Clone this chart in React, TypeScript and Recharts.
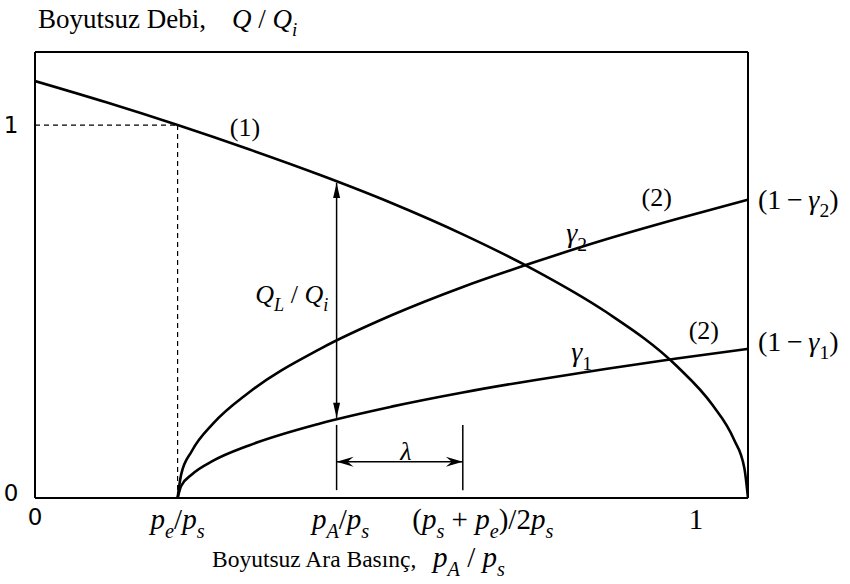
import { ComposedChart, Line, XAxis, YAxis, ReferenceLine, ReferenceDot, Label } from 'recharts';

// curve (1): leakage-limited flow, falls to zero at p_A/p_s = 1
const curve1P = [0, 0.1, 0.2, 0.3, 0.4, 0.5, 0.6, 0.7, 0.8, 0.9, 0.95, 0.98, 0.995, 1];
const curve1Q = [1.118, 1.061, 1.0, 0.935, 0.866, 0.791, 0.707, 0.612, 0.5, 0.354, 0.25, 0.158, 0.079, 0];

// curves (2): gamma_1 / gamma_2, both start at p_e/p_s
const gammaP = [0.2, 0.205, 0.22, 0.25, 0.3, 0.4, 0.5, 0.6, 0.7, 0.8, 0.9, 1.0];
const gamma2Q = [0, 0.063, 0.126, 0.2, 0.283, 0.4, 0.49, 0.566, 0.632, 0.693, 0.748, 0.8];
const gamma1Q = [0, 0.032, 0.063, 0.1, 0.141, 0.2, 0.245, 0.283, 0.316, 0.346, 0.374, 0.4];

const PE = 0.2;
const PA = 0.423;
const PMID = 0.6;
const Q_MAX = 1.196;

const xTicks = [0, PE, PA, PMID, 0.927];
const yTicks = [0, 1];

type Kind = 'r' | 'i' | 'sub' | 'subr';
type Part = [string, Kind];

const xTickLabels: Part[][] = [
  [['0', 'r']],
  [['p', 'i'], ['e', 'sub'], ['/', 'r'], ['p', 'i'], ['s', 'sub']],
  [['p', 'i'], ['A', 'sub'], ['/', 'r'], ['p', 'i'], ['s', 'sub']],
  [['(', 'r'], ['p', 'i'], ['s', 'sub'], ['\u00a0+\u00a0', 'r'], ['p', 'i'], ['e', 'sub'], [')/2', 'r'], ['p', 'i'], ['s', 'sub']],
  [['1', 'r']],
];

const xTitle = 'Boyutsuz Ara Basınç,';
const xTitleMath: Part[] = [['p', 'i'], ['A', 'sub'], ['\u00a0/\u00a0', 'r'], ['p', 'i'], ['s', 'sub']];
const yTitle = 'Boyutsuz Debi,';
const yTitleMath: Part[] = [['Q', 'i'], ['\u00a0/\u00a0', 'r'], ['Q', 'i'], ['i', 'sub']];

const rows = (xs: number[], ys: number[]) => xs.map((p, i) => ({ p, q: ys[i] }));
const curve1 = rows(curve1P, curve1Q);
const gamma2 = rows(gammaP, gamma2Q);
const gamma1 = rows(gammaP, gamma1Q);

const SERIF = '"Liberation Serif", "Times New Roman", serif';
const SANS = '"DejaVu Sans", sans-serif';

function MathText({ x, y, parts, size = 22, anchor = 'start' }: { x: number; y: number; parts: Part[]; size?: number; anchor?: string }) {
  let shift = 0;
  const spans = parts.map(([t, k], i) => {
    const sub = k === 'sub' || k === 'subr';
    const target = sub ? size * 0.3 : 0;
    const dy = target - shift;
    shift = target;
    return (
      <tspan key={i} dy={dy} fontStyle={k === 'i' || k === 'sub' ? 'italic' : 'normal'} fontSize={sub ? size * 0.7 : size}>
        {t}
      </tspan>
    );
  });
  return (
    <text x={x} y={y} textAnchor={anchor as any} fontFamily={SERIF} fill="#000">
      {spans}
    </text>
  );
}

const tickShift: Record<number, number> = { 0: 0, 1: 0, 2: 4, 3: 20, 4: 0 };

function XTick(props: any) {
  const { x, y, payload, index } = props;
  const i = xTicks.indexOf(payload.value);
  if (i === 0) {
    return (
      <text x={x} y={y + 19} textAnchor="middle" fontFamily={SANS} fontSize={23} fill="#000">0</text>
    );
  }
  return <MathText x={x + (tickShift[i] ?? 0)} y={y + 23} parts={xTickLabels[i >= 0 ? i : index]} size={29} anchor="middle" />;
}

function YTick(props: any) {
  const { x, y, payload } = props;
  return (
    <text x={x - 16} y={y + (payload.value === 0 ? 3 : 8)} textAnchor="middle" fontFamily={SANS} fontSize={23} fill="#000">
      {payload.value}
    </text>
  );
}

// straight line with arrow heads; `barbed` gives the notched heads used for lambda
function arrowHead(x: number, y: number, ux: number, uy: number, barbed: boolean) {
  const len = barbed ? 17 : 15;
  const half = barbed ? 5 : 3.5;
  const bx = x - ux * len;
  const by = y - uy * len;
  const nx = -uy;
  const ny = ux;
  const notch = barbed ? 11 : len;
  const mx = x - ux * notch;
  const my = y - uy * notch;
  return `${x},${y} ${bx + nx * half},${by + ny * half} ${mx},${my} ${bx - nx * half},${by - ny * half}`;
}

function makeArrow(barbed: boolean, width: number) {
  return (p: any) => {
    const { x1, y1, x2, y2 } = p;
    const d = Math.hypot(x2 - x1, y2 - y1) || 1;
    const ux = (x2 - x1) / d;
    const uy = (y2 - y1) / d;
    return (
      <g>
        <line x1={x1} y1={y1} x2={x2} y2={y2} stroke="#000" strokeWidth={width} />
        <polygon points={arrowHead(x2, y2, ux, uy, barbed)} fill="#000" />
        <polygon points={arrowHead(x1, y1, -ux, -uy, barbed)} fill="#000" />
      </g>
    );
  };
}

const textAt = (parts: Part[], size: number, dx = 0, dy = 0, anchor = 'start') => (p: any) => (
  <MathText x={p.cx + dx} y={p.cy + dy} parts={parts} size={size} anchor={anchor} />
);

const renderXTitle = (p: any) => {
  const vb = p.viewBox;
  return (
    <g>
      <text x={vb.x + 177} y={vb.y + 69} fontFamily={SERIF} fontSize={23.5} fill="#000">{xTitle}</text>
      <MathText x={vb.x + 398} y={vb.y + 69} size={29} parts={xTitleMath} />
    </g>
  );
};

const renderYTitle = (p: any) => {
  const vb = p.viewBox;
  return (
    <g>
      <text x={vb.x + 38} y={vb.y - 24} fontFamily={SERIF} fontSize={27} fill="#000">{yTitle}</text>
      <MathText x={vb.x + 232} y={vb.y - 24} size={27} parts={yTitleMath} />
    </g>
  );
};

export default function App() {
  return (
    <div style={{ position: 'absolute', left: 0, top: 0, background: '#fff' }}>
      <ComposedChart width={850} height={584} margin={{ top: 52, right: 102, bottom: 0, left: 0 }}>
        <XAxis
          type="number"
          dataKey="p"
          domain={[0, 1]}
          ticks={xTicks}
          interval={0}
          allowDataOverflow
          tickLine={false}
          axisLine={{ stroke: '#000', strokeWidth: 2 }}
          tick={<XTick />}
          height={86}
        >
          <Label content={renderXTitle} />
        </XAxis>
        <YAxis
          type="number"
          domain={[0, Q_MAX]}
          ticks={yTicks}
          allowDataOverflow
          tickLine={false}
          axisLine={{ stroke: '#000', strokeWidth: 2 }}
          tick={<YTick />}
          width={35}
        >
          <Label content={renderYTitle} />
        </YAxis>

        {/* frame top and right */}
        <ReferenceLine y={Q_MAX} stroke="#000" strokeWidth={2} />
        <ReferenceLine x={1} stroke="#000" strokeWidth={2} />

        {/* dashed guides to Q/Qi = 1 at p_e/p_s */}
        <ReferenceLine segment={[{ x: 0, y: 1 }, { x: PE, y: 1 }]} stroke="#000" strokeWidth={1.2} strokeDasharray="5 4" />
        <ReferenceLine segment={[{ x: PE, y: 1 }, { x: PE, y: 0 }]} stroke="#000" strokeWidth={1.2} strokeDasharray="5 4" />

        <Line data={curve1} dataKey="q" type="monotone" stroke="#000" strokeWidth={2.6} dot={false} isAnimationActive={false} />
        <Line data={gamma2} dataKey="q" type="monotone" stroke="#000" strokeWidth={2.6} dot={false} isAnimationActive={false} />
        <Line data={gamma1} dataKey="q" type="monotone" stroke="#000" strokeWidth={2.6} dot={false} isAnimationActive={false} />

        {/* Q_L/Q_i span between curve (1) and gamma_1 */}
        <ReferenceLine segment={[{ x: PA, y: 0.845 }, { x: PA, y: 0.215 }]} shape={makeArrow(false, 1.5)} />

        {/* lambda span */}
        <ReferenceLine segment={[{ x: PA, y: 0.196 }, { x: PA, y: 0.021 }]} stroke="#000" strokeWidth={1.5} />
        <ReferenceLine segment={[{ x: PMID, y: 0.196 }, { x: PMID, y: 0.021 }]} stroke="#000" strokeWidth={1.5} />
        <ReferenceLine segment={[{ x: PA, y: 0.097 }, { x: PMID, y: 0.097 }]} shape={makeArrow(true, 1.5)} />

        <ReferenceDot x={0.2945} y={0.995} r={0} shape={textAt([['(1)', 'r']], 26, 0, 9, 'middle')} />
        <ReferenceDot x={0.872} y={0.807} r={0} shape={textAt([['(2)', 'r']], 26, 0, 9, 'middle')} />
        <ReferenceDot x={0.938} y={0.45} r={0} shape={textAt([['(2)', 'r']], 26, 0, 9, 'middle')} />
        <ReferenceDot x={0.745} y={0.702} r={0} shape={textAt([['γ', 'i'], ['2', 'subr']], 28, 0, 6)} />
        <ReferenceDot x={0.752} y={0.383} r={0} shape={textAt([['γ', 'i'], ['1', 'subr']], 28, 0, 6)} />
        <ReferenceDot x={0.309} y={0.544} r={0} shape={textAt([['Q', 'i'], ['L', 'sub'], ['\u00a0/\u00a0', 'r'], ['Q', 'i'], ['i', 'sub']], 26, 0, 8)} />
        <ReferenceDot x={0.52} y={0.123} r={0} shape={textAt([['λ', 'i']], 26, 0, 8, 'middle')} />
        <ReferenceDot x={1} y={0.8} r={0} ifOverflow="visible" shape={textAt([['(1\u2009\u2212\u2009', 'r'], ['γ', 'i'], ['2', 'subr'], [')', 'r']], 28, 10, 9)} />
        <ReferenceDot x={1} y={0.4} r={0} ifOverflow="visible" shape={textAt([['(1\u2009\u2212\u2009', 'r'], ['γ', 'i'], ['1', 'subr'], [')', 'r']], 28, 10, 2)} />
      </ComposedChart>
    </div>
  );
}
